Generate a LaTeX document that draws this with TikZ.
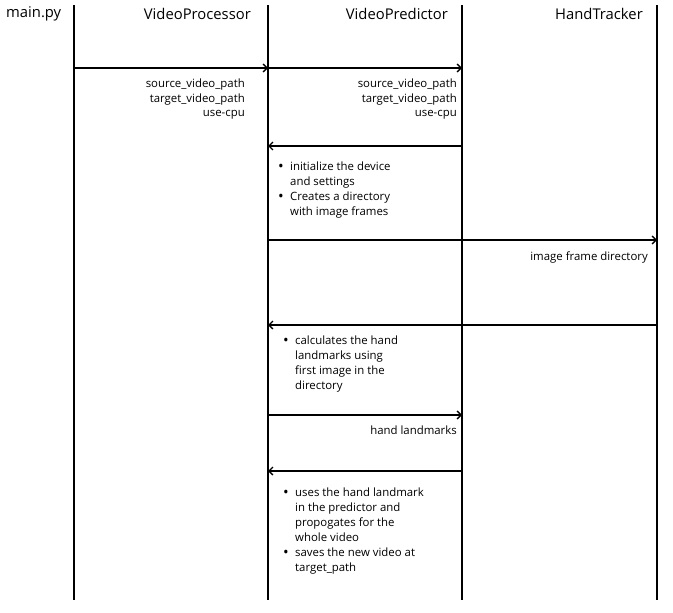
\documentclass[tikz,border=0pt]{standalone}
\usepackage{fontspec}
\setmainfont{Open Sans}
\usetikzlibrary{positioning,arrows.meta}
\newcommand{\bul}{\makebox[12pt][l]{\raisebox{-0.6pt}{\fontsize{15}{15}\selectfont\textbullet}}}
\newcommand{\ind}{\hspace*{12pt}}
\begin{document}
\begin{tikzpicture}[x=1pt,y=-1pt,
    life/.style={line width=2pt},
    msg/.style={line width=1.4pt,-{Straight Barb[length=4pt,width=8pt]}},
    head/.style={font=\fontsize{14.8}{17}\selectfont,inner sep=0pt},
    lbl/.style={font=\fontsize{11.4}{14.5}\selectfont,align=right,inner sep=0pt,anchor=north east},
    note/.style={font=\fontsize{11.4}{15}\selectfont,align=left,inner sep=0pt,anchor=north west}]
    \useasboundingbox (0,0) rectangle (673,613);

    % Lifelines
    \foreach \n/\x in {main/74,proc/268,pred/462,hand/657}{
        \coordinate (\n T) at (\x,5);
        \coordinate (\n B) at (\x,600);
        \draw[life] (\n T) -- (\n B);
    }

    % Headers
    \node[head,anchor=west] (mainH) at (6,14) {main.py};
    \node[head,anchor=east] (procH) at (251,14) {VideoProcessor};
    \node[head,anchor=east] (predH) at (448,14) {VideoPredictor};
    \node[head,anchor=east] (handH) at (643,14) {HandTracker};

    % Message points
    \coordinate (a1) at (74,68);
    \coordinate (a2) at (268,68);
    \coordinate (a3) at (462,68);
    \coordinate (b1) at (462,146);
    \coordinate (b2) at (268,146);
    \coordinate (c1) at (268,240);
    \coordinate (c2) at (657,240);
    \coordinate (d1) at (657,325);
    \coordinate (d2) at (268,325);
    \coordinate (e1) at (268,415);
    \coordinate (e2) at (462,415);
    \coordinate (f1) at (462,471);
    \coordinate (f2) at (268,471);

    % Messages
    \draw[msg] (a1) -- (a2);
    \draw[msg] (a2) -- (a3);
    \draw[msg] (b1) -- (b2);
    \draw[msg] (c1) -- (c2);
    \draw[msg] (d1) -- (d2);
    \draw[msg] (e1) -- (e2);
    \draw[msg] (f1) -- (f2);

    % Labels
    \node[lbl] (argsA) at (245,79) {source\_video\_path\\target\_video\_path\\use-cpu};
    \node[lbl] (argsB) at (457,79) {source\_video\_path\\target\_video\_path\\use-cpu};
    \node[lbl] (frames) at (648,252) {image frame directory};
    \node[lbl] (marks) at (457,426) {hand landmarks};

    % Notes
    \node[note] (init) at (278,162) {\bul initialize the device\\\ind and settings\\
        \bul Creates a directory\\\ind with image frames};
    \node[note] (calc) at (283,336) {\bul calculates the hand\\\ind landmarks using\\
        \ind first image in the\\\ind directory};
    \node[note] (uses) at (283,488) {\bul uses the hand landmark\\\ind in the predictor and\\
        \ind propogates for the\\\ind whole video\\
        \bul saves the new video at\\\ind target\_path};
\end{tikzpicture}
\end{document}
